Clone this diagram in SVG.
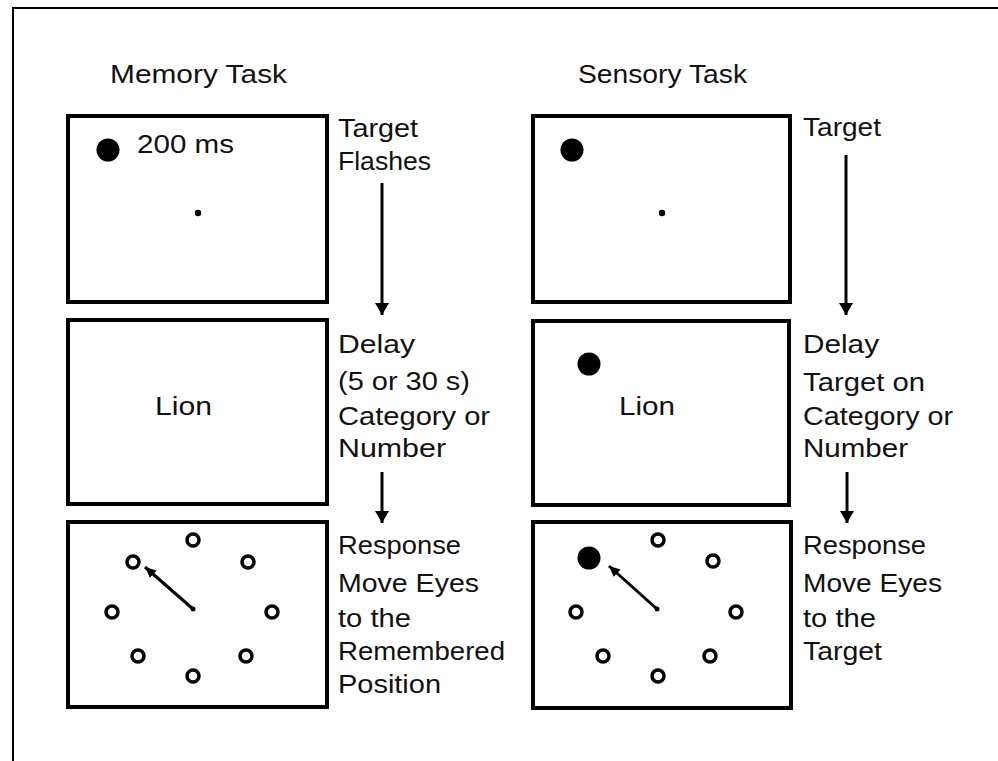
<svg xmlns="http://www.w3.org/2000/svg" width="998" height="761" viewBox="0 0 998 761">
<style>
  text { font-family: "Liberation Sans", Arial, sans-serif; font-size: 26px; fill: #111; }
  .box { fill: #fff; stroke: #000; stroke-width: 4; }
  .ring { fill: #fff; stroke: #000; stroke-width: 3.5; }
  .dot { fill: #000; }
  .frame { fill: none; stroke: #000; stroke-width: 2; }
  .arr { stroke: #000; stroke-width: 3; fill: none; }
</style>
<defs>
  <marker id="head" markerUnits="userSpaceOnUse" markerWidth="14" markerHeight="14" refX="12" refY="7" orient="auto">
    <path d="M0,0 L12,7 L0,14 z" fill="#000"/>
  </marker>
  <marker id="head2" markerUnits="userSpaceOnUse" markerWidth="12" markerHeight="12" refX="11" refY="5" orient="auto">
    <path d="M0,0 L11,5 L0,10 z" fill="#000"/>
  </marker>
</defs>
<rect width="998" height="761" fill="#fff"/>
<g id="frame">
  <polyline class="frame" points="13,761 13,8 998,8"/>
</g>
<g id="titles">
  <text x="110" y="83" textLength="177" lengthAdjust="spacingAndGlyphs">Memory Task</text>
  <text x="578" y="83" textLength="169" lengthAdjust="spacingAndGlyphs">Sensory Task</text>
</g>
<g id="memory-target">
  <rect class="box" x="68" y="116" width="259" height="186"/>
  <circle class="dot" cx="108" cy="150" r="11.5"/>
  <text x="137" y="153" textLength="97" lengthAdjust="spacingAndGlyphs">200 ms</text>
  <circle class="dot" cx="198" cy="213" r="3.2"/>
  <text x="338" y="137" textLength="80" lengthAdjust="spacingAndGlyphs">Target</text>
  <text x="338" y="170" textLength="93" lengthAdjust="spacingAndGlyphs">Flashes</text>
</g>
<g id="memory-delay">
  <rect class="box" x="68" y="320" width="259" height="184"/>
  <text x="155" y="415" textLength="57" lengthAdjust="spacingAndGlyphs">Lion</text>
  <text x="338" y="353" textLength="77" lengthAdjust="spacingAndGlyphs">Delay</text>
  <text x="338" y="390" textLength="132" lengthAdjust="spacingAndGlyphs">(5 or 30 s)</text>
  <text x="338" y="425" textLength="152" lengthAdjust="spacingAndGlyphs">Category or</text>
  <text x="338" y="457" textLength="108" lengthAdjust="spacingAndGlyphs">Number</text>
</g>
<g id="memory-response">
  <rect class="box" x="68" y="522" width="259" height="185"/>
  <circle class="ring" cx="193" cy="540" r="6"/>
  <circle class="ring" cx="248" cy="562" r="6"/>
  <circle class="ring" cx="272" cy="612" r="6"/>
  <circle class="ring" cx="246" cy="656" r="6"/>
  <circle class="ring" cx="193" cy="676" r="6"/>
  <circle class="ring" cx="138" cy="656" r="6"/>
  <circle class="ring" cx="112" cy="612" r="6"/>
  <circle class="ring" cx="133" cy="562" r="6"/>
  <circle class="dot" cx="193" cy="609" r="2.5"/>
  <text x="338" y="554" textLength="123" lengthAdjust="spacingAndGlyphs">Response</text>
  <text x="338" y="592" textLength="141" lengthAdjust="spacingAndGlyphs">Move Eyes</text>
  <text x="338" y="627" textLength="73" lengthAdjust="spacingAndGlyphs">to the</text>
  <text x="338" y="660" textLength="167" lengthAdjust="spacingAndGlyphs">Remembered</text>
  <text x="338" y="693" textLength="103" lengthAdjust="spacingAndGlyphs">Position</text>
</g>
<g id="sensory-target">
  <rect class="box" x="533" y="116" width="257" height="186"/>
  <circle class="dot" cx="572" cy="150" r="11.5"/>
  <circle class="dot" cx="662" cy="213" r="3.2"/>
  <text x="803" y="136" textLength="78" lengthAdjust="spacingAndGlyphs">Target</text>
</g>
<g id="sensory-delay">
  <rect class="box" x="533" y="321" width="256" height="184"/>
  <circle class="dot" cx="589" cy="364" r="11.5"/>
  <text x="619" y="415" textLength="56" lengthAdjust="spacingAndGlyphs">Lion</text>
  <text x="803" y="353" textLength="76" lengthAdjust="spacingAndGlyphs">Delay</text>
  <text x="803" y="391" textLength="122" lengthAdjust="spacingAndGlyphs">Target on</text>
  <text x="803" y="425" textLength="150" lengthAdjust="spacingAndGlyphs">Category or</text>
  <text x="803" y="457" textLength="105" lengthAdjust="spacingAndGlyphs">Number</text>
</g>
<g id="sensory-response">
  <rect class="box" x="533" y="522" width="258" height="186"/>
  <circle class="dot" cx="589" cy="558" r="11.5"/>
  <circle class="ring" cx="658" cy="540" r="6"/>
  <circle class="ring" cx="713" cy="561" r="6"/>
  <circle class="ring" cx="736" cy="612" r="6"/>
  <circle class="ring" cx="710" cy="656" r="6"/>
  <circle class="ring" cx="658" cy="676" r="6"/>
  <circle class="ring" cx="603" cy="656" r="6"/>
  <circle class="ring" cx="576" cy="612" r="6"/>
  <circle class="dot" cx="657" cy="609" r="2.5"/>
  <text x="803" y="554" textLength="123" lengthAdjust="spacingAndGlyphs">Response</text>
  <text x="803" y="592" textLength="139" lengthAdjust="spacingAndGlyphs">Move Eyes</text>
  <text x="803" y="627" textLength="73" lengthAdjust="spacingAndGlyphs">to the</text>
  <text x="803" y="660" textLength="79" lengthAdjust="spacingAndGlyphs">Target</text>
</g>
<g id="connectors">
  <line class="arr" x1="382" y1="183" x2="382" y2="315" marker-end="url(#head)"/>
  <line class="arr" x1="382" y1="472" x2="382" y2="523" marker-end="url(#head)"/>
  <line class="arr" x1="846" y1="155" x2="846" y2="315" marker-end="url(#head)"/>
  <line class="arr" x1="847" y1="472" x2="847" y2="523" marker-end="url(#head)"/>
  <line class="arr" x1="193" y1="609" x2="145" y2="567" marker-end="url(#head2)"/>
  <line class="arr" x1="657" y1="609" x2="609" y2="566" marker-end="url(#head2)"/>
</g>
</svg>
